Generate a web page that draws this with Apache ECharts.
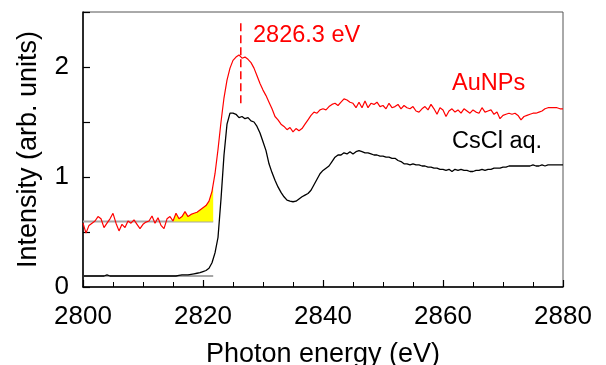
<!DOCTYPE html>
<html>
<head>
<meta charset="utf-8">
<script src="https://cdn.jsdelivr.net/npm/echarts@6/dist/echarts.min.js"></script>
<style>html,body{margin:0;padding:0;background:#fff;}#c{width:606px;height:365px;}</style>
</head>
<body>
<div id="c"></div>
<script>
// Photon energy grid (eV)
const energy = [
2800,2800.5,2801,2801.5,2802,2802.5,2803,2803.5,2804,2804.5,2805,2805.5,2806,2806.5,2807,2807.5,2808,2808.5,2809,2809.5,
2810,2810.5,2811,2811.5,2812,2812.5,2813,2813.5,2814,2814.5,2815,2815.5,2816,2816.5,2817,2817.5,2818,2818.5,2819,2819.5,
2820,2820.5,2821,2821.5,2822,2822.5,2823,2823.5,2824,2824.5,2825,2825.5,2826,2826.5,2827,2827.5,2828,2828.5,2829,2829.5,
2830,2830.5,2831,2831.5,2832,2832.5,2833,2833.5,2834,2834.5,2835,2835.5,2836,2836.5,2837,2837.5,2838,2838.5,2839,2839.5,
2840,2840.5,2841,2841.5,2842,2842.5,2843,2843.5,2844,2844.5,2845,2845.5,2846,2846.5,2847,2847.5,2848,2848.5,2849,2849.5,
2850,2850.5,2851,2851.5,2852,2852.5,2853,2853.5,2854,2854.5,2855,2855.5,2856,2856.5,2857,2857.5,2858,2858.5,2859,2859.5,
2860,2860.5,2861,2861.5,2862,2862.5,2863,2863.5,2864,2864.5,2865,2865.5,2866,2866.5,2867,2867.5,2868,2868.5,2869,2869.5,
2870,2870.5,2871,2871.5,2872,2872.5,2873,2873.5,2874,2874.5,2875,2875.5,2876,2876.5,2877,2877.5,2878,2878.5,2879,2879.5,
2880];

// AuNPs spectrum (red)
const auNPs = [
0.58,0.49,0.56,0.58,0.60,0.64,0.62,0.54,0.58,0.62,0.67,0.58,0.51,0.57,0.54,0.60,0.58,0.61,0.57,0.53,
0.57,0.59,0.60,0.645,0.58,0.63,0.56,0.53,0.62,0.64,0.60,0.67,0.62,0.64,0.685,0.64,0.66,0.67,0.68,0.70,
0.72,0.74,0.78,0.87,1.03,1.25,1.50,1.72,1.88,1.99,2.06,2.09,2.11,2.08,2.09,2.07,2.04,1.99,1.92,1.85,
1.79,1.74,1.68,1.62,1.55,1.52,1.48,1.46,1.43,1.45,1.41,1.44,1.42,1.44,1.48,1.52,1.56,1.59,1.58,1.61,
1.62,1.61,1.64,1.66,1.67,1.65,1.68,1.71,1.70,1.68,1.67,1.63,1.68,1.63,1.69,1.63,1.67,1.66,1.68,1.64,
1.65,1.62,1.67,1.63,1.64,1.66,1.62,1.65,1.63,1.62,1.64,1.60,1.59,1.62,1.64,1.61,1.66,1.62,1.57,1.63,
1.61,1.55,1.60,1.62,1.59,1.61,1.58,1.62,1.60,1.58,1.61,1.59,1.58,1.63,1.59,1.60,1.61,1.57,1.59,1.53,
1.56,1.57,1.58,1.57,1.58,1.56,1.52,1.55,1.56,1.57,1.58,1.58,1.59,1.60,1.62,1.63,1.63,1.63,1.63,1.62,
1.62];

// CsCl aq. spectrum (black)
const csCl = [
0.10,0.10,0.10,0.10,0.10,0.10,0.10,0.10,0.11,0.10,0.10,0.10,0.10,0.10,0.10,0.10,0.10,0.10,0.10,0.10,
0.10,0.10,0.10,0.10,0.10,0.10,0.10,0.10,0.10,0.10,0.10,0.10,0.105,0.11,0.11,0.11,0.115,0.12,0.125,0.13,
0.14,0.15,0.17,0.22,0.31,0.45,0.80,1.20,1.48,1.58,1.58,1.57,1.54,1.55,1.53,1.54,1.51,1.50,1.46,1.40,
1.32,1.24,1.12,1.04,0.97,0.91,0.86,0.82,0.79,0.78,0.775,0.78,0.80,0.82,0.835,0.85,0.88,0.93,0.98,1.03,
1.06,1.08,1.10,1.14,1.18,1.20,1.20,1.22,1.21,1.23,1.21,1.23,1.24,1.23,1.22,1.22,1.21,1.20,1.20,1.19,
1.19,1.18,1.18,1.17,1.17,1.15,1.14,1.12,1.12,1.11,1.12,1.11,1.11,1.10,1.10,1.09,1.09,1.08,1.08,1.07,
1.07,1.06,1.07,1.05,1.07,1.06,1.07,1.06,1.06,1.05,1.05,1.06,1.06,1.07,1.06,1.07,1.07,1.08,1.08,1.08,
1.09,1.09,1.10,1.10,1.10,1.10,1.10,1.10,1.10,1.10,1.11,1.10,1.10,1.11,1.10,1.11,1.11,1.11,1.11,1.11,
1.11];

// Pre-edge baselines
const baselineEnergy = [2800, 2821.7];
const auBaselineLevel = 0.595;
const csBaselineLevel = 0.10;
// Pre-edge yellow region
const preEdgeStart = 2815;
const preEdgeEnd = 2821.7;
const preEdgeEndValue = 0.90;
// Peak marker
const peakEnergy = 2826.3;
const peakMarkerRange = [1.67, 2.40];
const peakLabel = '2826.3 eV';
// Axis ticks
const xTicks = [2800, 2820, 2840, 2860, 2880];
const yTicks = [0, 1, 2];

const pairs = (ys) => energy.map((e, i) => [e, ys[i]]);
const redPairs = pairs(auNPs);
const yellowPairs = redPairs.filter(p => p[0] >= preEdgeStart && p[0] <= preEdgeEnd).concat([[preEdgeEnd, preEdgeEndValue]]);

const FONT = '"Liberation Sans", Arial, sans-serif';
const chart = echarts.init(document.getElementById('c'), null, {renderer: 'canvas'});
chart.setOption({
  animation: false,
  backgroundColor: '#fff',
  grid: {left: 83, right: 43, top: 12, bottom: 78, show: true, borderColor: '#555', borderWidth: 1,
         backgroundColor: 'transparent', containLabel: false, outerBoundsMode: 'none'},
  xAxis: {
    type: 'value', min: xTicks[0], max: xTicks[xTicks.length - 1], interval: 20,
    name: 'Photon energy (eV)', nameLocation: 'middle', nameGap: 54,
    nameTextStyle: {fontFamily: FONT, fontSize: 27, color: '#000'},
    axisLine: {show: true, lineStyle: {color: '#000', width: 1.5}},
    axisTick: {show: true, inside: true, length: 7, lineStyle: {color: '#000', width: 1.2}},
    minorTick: {show: true, splitNumber: 4, length: 5, lineStyle: {color: '#000', width: 1}},
    axisLabel: {fontFamily: FONT, fontSize: 26, color: '#000', margin: 17, formatter: v => String(v)},
    splitLine: {show: false}
  },
  yAxis: {
    type: 'value', min: 0, max: 2.5, interval: 1,
    name: 'Intensity (arb. units)', nameLocation: 'middle', nameGap: 41, nameRotate: 90,
    nameTextStyle: {fontFamily: FONT, fontSize: 27, color: '#000'},
    axisLine: {show: true, lineStyle: {color: '#000', width: 1.5}},
    axisTick: {show: true, inside: true, length: 7, lineStyle: {color: '#000', width: 1.2}},
    minorTick: {show: true, splitNumber: 2, length: 7, lineStyle: {color: '#000', width: 1.2}},
    axisLabel: {fontFamily: FONT, fontSize: 26, color: '#000', margin: 14,
      formatter: v => (yTicks.indexOf(v) >= 0 ? String(v) : '')},
    splitLine: {show: false}
  },
  series: [
    {type: 'line', data: baselineEnergy.map(e => [e, auBaselineLevel]), showSymbol: false, silent: true,
     lineStyle: {color: '#a6a6a6', width: 2}, z: 1},
    {type: 'line', data: baselineEnergy.map(e => [e, csBaselineLevel]), showSymbol: false, silent: true,
     lineStyle: {color: '#a6a6a6', width: 2}, z: 1},
    {type: 'line', data: yellowPairs, showSymbol: false, silent: true,
     lineStyle: {width: 0, opacity: 0}, areaStyle: {color: '#ffff00', opacity: 1, origin: auBaselineLevel}, z: 2},
    {type: 'line', data: redPairs, showSymbol: false, lineStyle: {color: '#ff0000', width: 1.2}, z: 3},
    {type: 'line', data: pairs(csCl), showSymbol: false, lineStyle: {color: '#000', width: 1.3}, z: 3},
    {type: 'line', data: peakMarkerRange.map(v => [peakEnergy, v]), showSymbol: false,
     lineStyle: {color: '#ff0000', width: 1.5, type: [8, 4]}, z: 4}
  ],
  graphic: [
    {type: 'text', left: 253, top: 24, style: {text: peakLabel, fill: '#ff0000', font: '23.5px ' + FONT}},
    {type: 'text', left: 452, top: 72, style: {text: 'AuNPs', fill: '#ff0000', font: '23.5px ' + FONT}},
    {type: 'text', left: 452, top: 130, style: {text: 'CsCl aq.', fill: '#000', font: '23.5px ' + FONT}}
  ]
});
</script>
</body>
</html>
